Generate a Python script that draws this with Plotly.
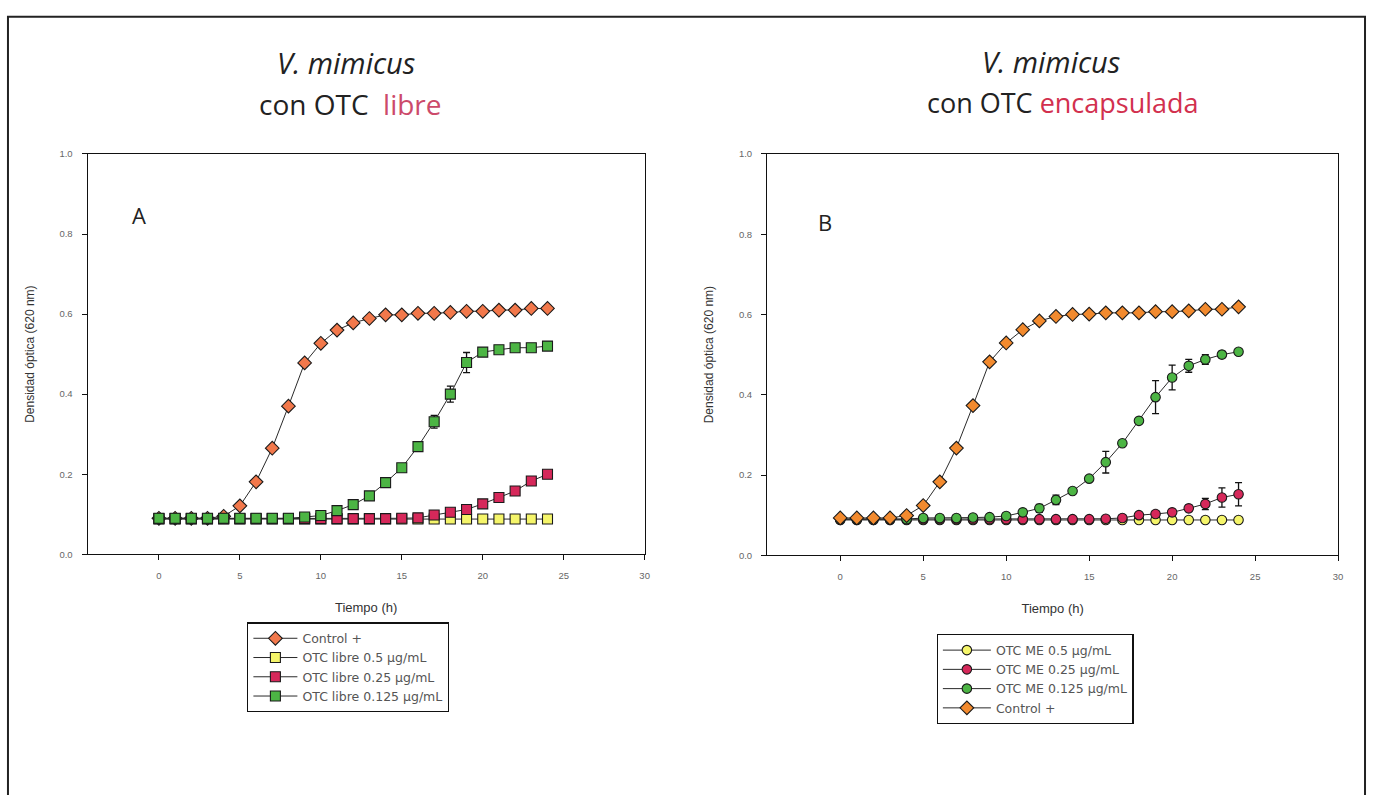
import plotly.graph_objects as go

W, H = 1374, 795

time_h = [0, 1, 2, 3, 4, 5, 6, 7, 8, 9, 10, 11, 12, 13, 14, 15, 16, 17, 18, 19, 20, 21, 22, 23, 24]

# Panel A (OTC libre)
a_control = [0.090, 0.090, 0.090, 0.090, 0.095, 0.121, 0.181, 0.265, 0.370, 0.478, 0.527, 0.560, 0.578,
             0.589, 0.598, 0.598, 0.602, 0.602, 0.604, 0.607, 0.607, 0.610, 0.610, 0.614, 0.614]
a_libre_05 = [0.088, 0.088, 0.088, 0.088, 0.088, 0.088, 0.088, 0.088, 0.088, 0.088, 0.088, 0.088, 0.088,
              0.088, 0.088, 0.088, 0.088, 0.088, 0.088, 0.088, 0.088, 0.088, 0.088, 0.088, 0.088]
a_libre_025 = [0.089, 0.089, 0.089, 0.089, 0.089, 0.089, 0.089, 0.089, 0.089, 0.089, 0.089, 0.089, 0.089,
               0.089, 0.089, 0.090, 0.091, 0.098, 0.105, 0.112, 0.126, 0.142, 0.158, 0.183, 0.200]
a_libre_0125 = [0.090, 0.090, 0.090, 0.090, 0.090, 0.090, 0.090, 0.090, 0.090, 0.093, 0.097, 0.109, 0.124,
                0.146, 0.179, 0.216, 0.269, 0.331, 0.400, 0.479, 0.505, 0.511, 0.516, 0.516, 0.520]
a_libre_0125_err = [0, 0, 0, 0, 0, 0, 0, 0, 0, 0, 0, 0, 0, 0, 0.004, 0.005, 0.008, 0.016, 0.020, 0.025,
                    0.006, 0.006, 0.008, 0.008, 0.008]

# Panel B (OTC encapsulada)
b_me_05 = [0.088, 0.088, 0.088, 0.088, 0.088, 0.088, 0.088, 0.088, 0.088, 0.088, 0.088, 0.088, 0.088,
           0.088, 0.088, 0.088, 0.088, 0.088, 0.088, 0.088, 0.088, 0.088, 0.088, 0.088, 0.088]
b_me_025 = [0.090, 0.090, 0.090, 0.090, 0.090, 0.090, 0.090, 0.090, 0.090, 0.090, 0.090, 0.090, 0.090,
            0.090, 0.090, 0.090, 0.091, 0.093, 0.100, 0.103, 0.107, 0.117, 0.128, 0.144, 0.152]
b_me_025_err = [0, 0, 0, 0, 0, 0, 0, 0, 0, 0, 0, 0, 0, 0, 0, 0, 0, 0, 0.004, 0.005, 0.006, 0.008,
                0.014, 0.024, 0.029]
b_me_0125 = [0.090, 0.090, 0.090, 0.090, 0.090, 0.093, 0.093, 0.093, 0.094, 0.095, 0.098, 0.107, 0.117,
             0.138, 0.160, 0.191, 0.232, 0.279, 0.335, 0.394, 0.443, 0.472, 0.488, 0.500, 0.507]
b_me_0125_err = [0, 0, 0, 0, 0, 0, 0, 0, 0, 0, 0, 0, 0.010, 0.012, 0, 0, 0.027, 0, 0, 0.041,
                 0.031, 0.016, 0.012, 0.008, 0.008]
b_control = [0.093, 0.093, 0.093, 0.093, 0.099, 0.124, 0.183, 0.267, 0.373, 0.482, 0.529, 0.562, 0.584,
             0.595, 0.600, 0.601, 0.604, 0.604, 0.604, 0.607, 0.607, 0.609, 0.613, 0.613, 0.619]

x_ticks = [0, 5, 10, 15, 20, 25, 30]
y_ticks = [0.0, 0.2, 0.4, 0.6, 0.8, 1.0]

ORANGE_A = "#f2784b"
ORANGE_B = "#f28a2e"
YELLOW = "#f5f56a"
RED = "#d6285a"
GREEN = "#4cb544"
LINE = "#2a2a2a"
FONT = "Liberation Sans, Arial, sans-serif"
LFONT = "DejaVu Sans, sans-serif"

fig = go.Figure()


def add(x, y, name, color, symbol, size, xa, ya, legend, err=None):
    kw = {}
    if err is not None:
        kw["error_y"] = dict(type="data", array=err, visible=True, color="#111111",
                             thickness=1.3, width=3.5)
    fig.add_trace(go.Scatter(
        x=x, y=y, name=name, mode="lines+markers", xaxis=xa, yaxis=ya, legend=legend,
        line=dict(color=LINE, width=1),
        marker=dict(color=color, symbol=symbol, size=size, line=dict(color="#1a1a1a", width=1.1)),
        **kw))


# Panel A
add(time_h, a_control, "Control +", ORANGE_A, "diamond", 10.5, "x", "y", "legend")
add(time_h, a_libre_05, "OTC libre 0.5 µg/mL", YELLOW, "square", 10, "x", "y", "legend")
add(time_h, a_libre_025, "OTC libre 0.25 µg/mL", RED, "square", 10, "x", "y", "legend")
add(time_h, a_libre_0125, "OTC libre 0.125 µg/mL", GREEN, "square", 10, "x", "y", "legend",
    err=a_libre_0125_err)

# Panel B
add(time_h, b_me_05, "OTC ME 0.5 µg/mL", YELLOW, "circle", 9.5, "x2", "y2", "legend2")
add(time_h, b_me_025, "OTC ME 0.25 µg/mL", RED, "circle", 9.5, "x2", "y2", "legend2", err=b_me_025_err)
add(time_h, b_me_0125, "OTC ME 0.125 µg/mL", GREEN, "circle", 9.5, "x2", "y2", "legend2",
    err=b_me_0125_err)
add(time_h, b_control, "Control +", ORANGE_B, "diamond", 10.5, "x2", "y2", "legend2")


def px_x(p):
    return p / W


def px_y(p):
    return 1 - p / H


axis_common = dict(showline=True, linecolor="#111111", linewidth=1.3, mirror=True, ticks="outside",
                   ticklen=5, tickcolor="#111111", tickwidth=1.2, showgrid=False, zeroline=False,
                   ticklabelstandoff=7,
                   tickfont=dict(family=FONT, size=9.5, color="#666666"))

xaxis_cfg = dict(axis_common, range=[-4.4, 30], tickvals=x_ticks,
                 title=dict(text="Tiempo (h)", font=dict(family=FONT, size=13, color="#333333"),
                            standoff=23))
yaxis_cfg = dict(axis_common, range=[0, 1], tickvals=y_ticks, tickformat=".1f",
                 title=dict(text="Densidad óptica (620 nm)", font=dict(family=FONT, size=12, color="#333333"),
                            standoff=22))

legend_common = dict(xanchor="left", yanchor="top", bordercolor="#111111", borderwidth=1.3,
                     bgcolor="white", font=dict(family=LFONT, size=12.5, color="#555555"),
                     tracegroupgap=0)

fig.update_layout(
    width=W, height=H,
    margin=dict(l=0, r=0, t=0, b=0),
    paper_bgcolor="white", plot_bgcolor="white",
    xaxis=dict(xaxis_cfg, domain=[px_x(88), px_x(647)], anchor="y"),
    yaxis=dict(yaxis_cfg, domain=[px_y(556), px_y(150)], anchor="x"),
    xaxis2=dict(xaxis_cfg, domain=[px_x(770), px_x(1343)], anchor="y2"),
    yaxis2=dict(yaxis_cfg, domain=[px_y(557), px_y(150)], anchor="x2"),
    legend=dict(legend_common, x=px_x(248), y=px_y(625), itemwidth=44),
    legend2=dict(legend_common, x=px_x(940), y=px_y(637), itemwidth=48),
    showlegend=True,
)

TFONT = "Open Sans, Lato, sans-serif"
annots = [
    dict(x=px_x(347), y=px_y(57), text="<i>V. mimicus</i>", size=29),
    dict(x=px_x(352), y=px_y(99), text="con OTC  <span style='color:#cc4a6a'>libre</span>", size=28),
    dict(x=px_x(1055), y=px_y(56), text="<i>V. mimicus</i>", size=29),
    dict(x=px_x(1067), y=px_y(98), text="con OTC <span style='color:#d2304e'>encapsulada</span>", size=27),
    dict(x=px_x(140), y=px_y(212), text="A", size=22),
    dict(x=px_x(828), y=px_y(219), text="B", size=22),
]
for a in annots:
    fig.add_annotation(x=a["x"], y=a["y"], xref="paper", yref="paper", text=a["text"],
                       showarrow=False, xanchor="center", yanchor="middle",
                       font=dict(family=TFONT, size=a["size"], color="#222222"))

# outer frame
fig.add_shape(type="rect", xref="paper", yref="paper",
              x0=px_x(8), x1=px_x(1370), y0=-0.02, y1=px_y(11),
              line=dict(color="#222222", width=2), fillcolor="rgba(0,0,0,0)", layer="below")

fig.write_html("out.html")
